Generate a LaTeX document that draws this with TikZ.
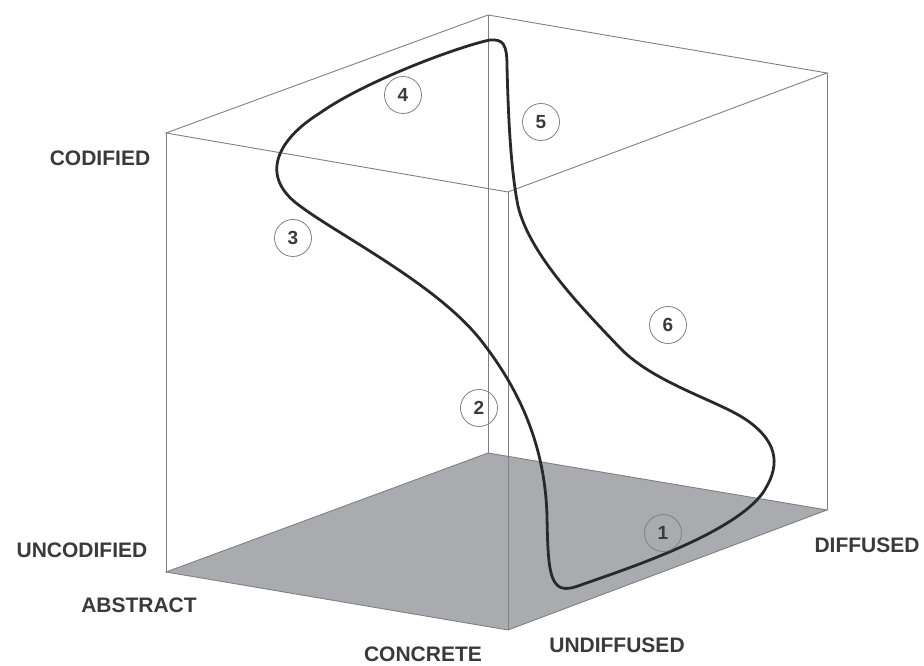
\documentclass[tikz,border=0pt]{standalone}
\usepackage{fontspec}
\setmainfont{Liberation Sans}
\definecolor{edgegray}{RGB}{128,128,128}
\definecolor{floorgray}{RGB}{170,171,175}
\definecolor{inkgray}{RGB}{58,58,58}
\begin{document}
\begin{tikzpicture}[x=1pt,y=1pt,line width=0.9pt,
    font=\fontsize{21}{24}\selectfont\bfseries,inner sep=0pt,
    cubeedge/.style={draw=edgegray,line width=0.9pt},
    axislabel/.style={text=inkgray},
    stage/.style={circle,draw=edgegray,line width=0.8pt,minimum size=37pt,
      text=inkgray,font=\fontsize{19}{20}\selectfont\bfseries},
    cycleline/.style={draw=inkgray!70!black,line width=2.8pt,
      line cap=round,line join=round}]
    \path[use as bounding box] (0,0) rectangle (924,666);
    \coordinate (lt) at (166,533);
    \coordinate (lb) at (166,94);
    \coordinate (bt) at (488,651);
    \coordinate (bb) at (488,213);
    \coordinate (ft) at (508,474);
    \coordinate (fb) at (508,36);
    \coordinate (rt) at (827,593);
    \coordinate (rb) at (827,156);
    \fill[floorgray] (lb) -- (bb) -- (rb) -- (fb) -- cycle;
    \draw[cubeedge] (lb) -- (bb) -- (rb) -- (fb) -- cycle;
    \draw[cubeedge] (lt) -- (bt) -- (rt) -- (ft) -- cycle;
    \foreach \corner in {l,b,r,f} {\draw[cubeedge] (\corner t) -- (\corner b);}
    \draw[cycleline] (547,150) .. controls (548,90) and (550,70) .. (578,80)
      .. controls (620,95) and (730,130) .. (762,172)
      .. controls (780,198) and (780,222) .. (748,245)
      .. controls (720,265) and (655,282) .. (620,318)
      .. controls (585,355) and (530,410) .. (518,460)
      .. controls (510,500) and (508,560) .. (507,600)
      .. controls (507,622) and (503,627) .. (490,626)
      .. controls (460,620) and (365,585) .. (320,553)
      .. controls (278,527) and (258,490) .. (300,460)
      .. controls (340,430) and (440,380) .. (483,323)
      .. controls (520,275) and (545,220) .. (547,150) -- cycle;
    \node[stage] (s1) at (663,133) {1};
    \node[stage] (s2) at (479,258) {2};
    \node[stage] (s3) at (293,428) {3};
    \node[stage] (s4) at (403,571) {4};
    \node[stage] (s5) at (541,544) {5};
    \node[stage] (s6) at (668,341) {6};
    \node[axislabel] (codified) at (100,508) {CODIFIED};
    \node[axislabel] (uncodified) at (82,116) {UNCODIFIED};
    \node[axislabel] (abstract) at (139,61) {ABSTRACT};
    \node[axislabel] (concrete) at (423,12) {CONCRETE};
    \node[axislabel] (undiffused) at (617,21) {UNDIFFUSED};
    \node[axislabel] (diffused) at (867,121) {DIFFUSED};
  \end{tikzpicture}
\end{document}
